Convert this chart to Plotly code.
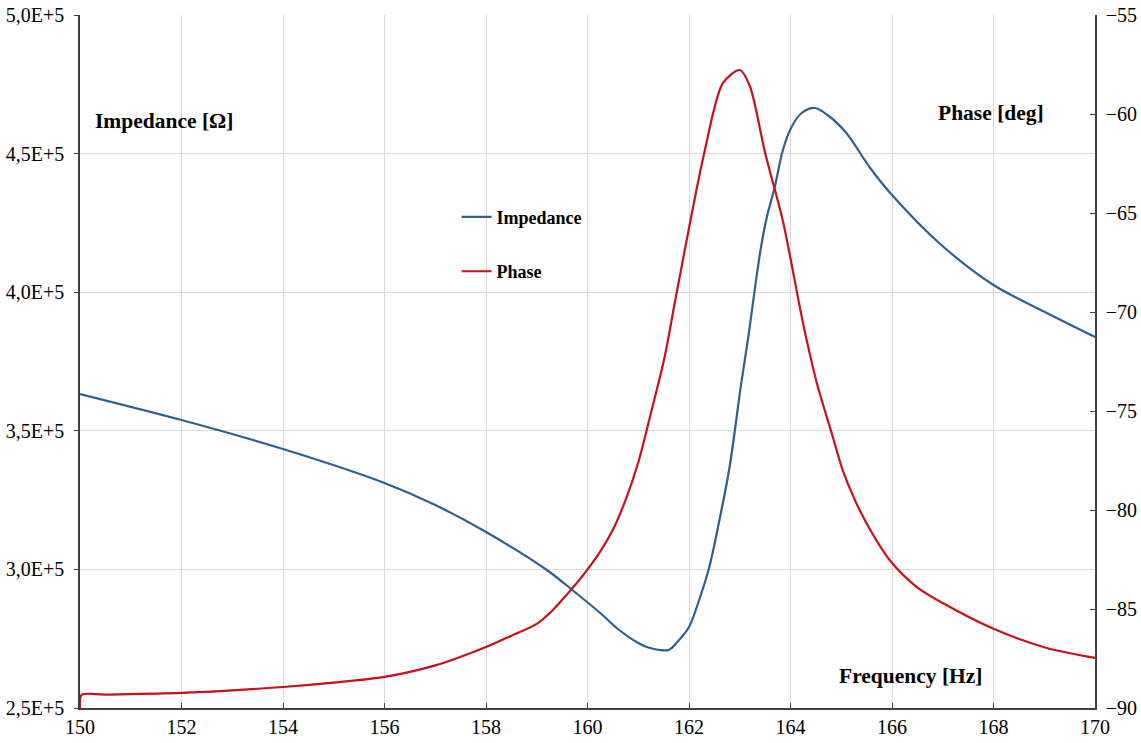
import plotly.graph_objects as go

freq_imp = [150, 152, 154, 156, 157, 158, 159.2, 159.7, 160.25, 160.6, 161, 161.2, 161.42, 161.6, 161.77, 162,
            162.2, 162.4, 162.6, 162.8, 163.03, 163.16, 163.4, 163.53, 163.69, 163.85, 164.02, 164.22, 164.48,
            164.73, 165.1, 165.57, 166, 166.95, 168, 169.05, 170]
impedance = [363276, 353896, 343434, 331169, 323232, 313492, 299784, 292569, 284271, 278500, 273449, 271800,
             270924, 270924, 273810, 279221, 288961, 300866, 317821, 336941, 367244, 382756, 414141, 426768,
             437951, 451299, 459596, 464646, 466450, 463925, 457431, 444805, 435065, 417388, 402597, 392496,
             383838]

freq_ph = [150, 150.03, 150.5, 152, 154, 155, 156, 157, 158, 158.5, 159, 159.3, 159.6, 159.85, 160.25, 160.5,
           160.75, 161, 161.25, 161.52, 161.76, 162.3, 162.67, 163, 163.2, 163.5, 163.85, 164.25, 164.52, 164.81,
           165.03, 165.27, 165.57, 165.96, 166.49, 167, 168, 169.05, 170]
phase = [-90.0, -89.34, -89.32, -89.24, -88.94, -88.72, -88.43, -87.85, -86.92, -86.35, -85.75, -85.1, -84.25,
         -83.5, -82.1, -81.0, -79.5, -77.6, -75.1, -72.27, -68.99, -61.97, -58.43, -57.78, -58.6, -61.97, -65.4,
         -70.6, -73.6, -76.1, -78.0, -79.5, -81.0, -82.55, -83.89, -84.70, -86.0, -86.97, -87.47]

x_ticks = list(range(150, 171, 2))
y_ticks = [250000, 300000, 350000, 400000, 450000, 500000]
y_ticktext = ["2,5E+5", "3,0E+5", "3,5E+5", "4,0E+5", "4,5E+5", "5,0E+5"]
y2_ticks = [-90, -85, -80, -75, -70, -65, -60, -55]

font_family = "Liberation Serif"
blue = "#2f5f8c"
red = "#c8101a"

fig = go.Figure()
fig.add_trace(go.Scatter(x=freq_imp, y=impedance, name="Impedance", mode="lines",
                         line=dict(color=blue, width=2.2, shape="spline", smoothing=0.9),
                         legendgroup="a"))
fig.add_trace(go.Scatter(x=freq_ph, y=phase, name="Phase", mode="lines", yaxis="y2",
                         line=dict(color=red, width=2.2, shape="spline", smoothing=0.8),
                         legendgroup="b"))

axis_color = "#404040"
tick_size = 20
fig.update_layout(
    width=1141, height=743,
    margin=dict(l=80, r=46, t=15, b=35),
    paper_bgcolor="white", plot_bgcolor="white",
    font=dict(family=font_family, size=tick_size, color="black"),
    showlegend=True,
    legend=dict(x=0.371, y=0.735, xanchor="left", yanchor="top", bgcolor="rgba(0,0,0,0)",
                font=dict(family=font_family, size=18, color="black", weight="bold"),
                tracegroupgap=28, traceorder="grouped", itemwidth=30),
    xaxis=dict(range=[150, 170], tickvals=x_ticks, showgrid=True, gridcolor="#d9d9d9", gridwidth=1,
               showline=True, linecolor=axis_color, linewidth=1.5, ticks="inside", ticklen=5,
               tickcolor=axis_color, zeroline=False, tickfont=dict(size=tick_size), automargin=False),
    yaxis=dict(range=[250000, 500000], tickvals=y_ticks, ticktext=y_ticktext, showgrid=True,
               gridcolor="#d9d9d9", gridwidth=1, showline=True, linecolor=axis_color, linewidth=1.5,
               ticks="outside", ticklen=4, tickcolor=axis_color, zeroline=False,
               tickfont=dict(size=tick_size), ticklabelstandoff=6, automargin=False),
    yaxis2=dict(range=[-90, -55], tickvals=y2_ticks, overlaying="y", side="right", showgrid=False,
                showline=True, linecolor=axis_color, linewidth=1.5, ticks="inside", ticklen=5,
                tickcolor=axis_color, zeroline=False, tickfont=dict(size=tick_size), ticklabelstandoff=5,
                automargin=False),
)

ann_font = dict(family=font_family, size=21.5, color="black", weight="bold")
fig.add_annotation(text="Impedance [Ω]", xref="paper", yref="paper", x=0.0128, y=0.847,
                   xanchor="left", yanchor="middle", showarrow=False, font=ann_font)
fig.add_annotation(text="Phase [deg]", xref="paper", yref="paper", x=0.9518, y=0.8586,
                   xanchor="right", yanchor="middle", showarrow=False, font=ann_font)
fig.add_annotation(text="Frequency [Hz]", xref="paper", yref="paper", x=0.8917, y=0.0462,
                   xanchor="right", yanchor="middle", showarrow=False, font=ann_font)

fig.write_html("out.html", config={"displayModeBar": False},
               post_script="document.body.style.margin='0';document.body.style.overflow='hidden';")
